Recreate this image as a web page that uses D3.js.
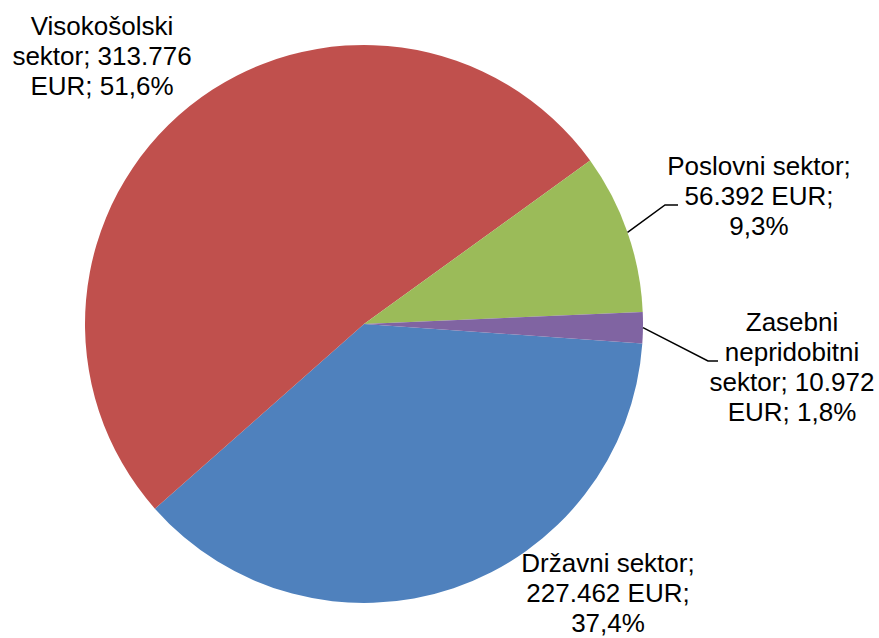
<!DOCTYPE html>
<html>
<head>
<meta charset="utf-8">
<script src="https://cdn.jsdelivr.net/npm/d3@7"></script>
<style>
  body { margin: 0; background: #fff; }
  svg text { font-family: "Liberation Sans", Arial, sans-serif; font-size: 26px; fill: #000; }
</style>
</head>
<body>
<svg class="chart"></svg>
<script>
// Data (EUR per sector).
var sectors = ["Državni sektor", "Visokošolski sektor", "Poslovni sektor", "Zasebni nepridobitni sektor"];
var amounts = [227462, 313776, 56392, 10972];
var sliceColors = ["#4F81BD", "#C0504D", "#9BBB59", "#8064A2"];

// Label placement: centre x, first baseline, optional leader bend/end points.
var labelLayout = [
    { x: 608, y: 572, leader: null },
    { x: 102, y: 35, leader: null },
    { x: 759, y: 175, leader: [[665, 205], [678, 205]] },
    { x: 792, y: 331, leader: [[708, 361], [718, 361]] }
];

var width = 879, height = 638;
var cx = 364, cy = 324, radius = 279;
var lineHeight = 30, wrapWidth = 200;

var svg = d3.select("svg.chart")
    .attr("width", width)
    .attr("height", height);

var total = d3.sum(amounts);
var startDeg = 94; // first slice starts just past 3 o'clock
var pie = d3.pie()
    .sort(null)
    .value(function (d) { return d; })
    .startAngle(startDeg * Math.PI / 180)
    .endAngle((startDeg + 360) * Math.PI / 180);

var arcs = pie(amounts);
var arc = d3.arc().innerRadius(0).outerRadius(radius);

var g = svg.append("g").attr("transform", "translate(" + cx + "," + cy + ")");

g.selectAll("path.slice")
    .data(arcs)
    .enter()
    .append("path")
    .attr("class", "slice")
    .attr("d", arc)
    .attr("fill", function (d, i) { return sliceColors[i]; })
    .attr("stroke", "none");

var locale = d3.formatLocale({ decimal: ",", thousands: ".", grouping: [3], currency: ["", " EUR"] });
var fmtAmount = locale.format(",d");
var fmtPct = locale.format(".1f");

function labelText (i) {
    return sectors[i] + "; " + fmtAmount(amounts[i]) + " EUR; " + fmtPct(amounts[i] / total * 100) + "%";
}

// Leader lines go from the slice edge at its mid angle.
labelLayout.forEach(function (lay, i) {
    if (!lay.leader) return;
    var mid = (arcs[i].startAngle + arcs[i].endAngle) / 2;
    var p0 = [cx + radius * Math.sin(mid), cy - radius * Math.cos(mid)];
    svg.append("path")
        .attr("d", d3.line()([p0].concat(lay.leader)))
        .attr("fill", "none")
        .attr("stroke", "#000")
        .attr("stroke-width", 1.5);
});

// Word-wrap each label to the available width, centred on its anchor.
labelLayout.forEach(function (lay, i) {
    var words = labelText(i).split(" ");
    var text = svg.append("text").attr("text-anchor", "middle");
    var lines = [];
    var current = "";
    var probe = svg.append("text").attr("visibility", "hidden");
    words.forEach(function (w) {
        var trial = current ? current + " " + w : w;
        probe.text(trial);
        if (current && probe.node().getComputedTextLength() > wrapWidth) {
            lines.push(current);
            current = w;
        } else {
            current = trial;
        }
    });
    lines.push(current);
    probe.remove();
    lines.forEach(function (line, k) {
        text.append("tspan")
            .attr("x", lay.x)
            .attr("y", lay.y + k * lineHeight)
            .text(line);
    });
});
</script>
</body>
</html>
